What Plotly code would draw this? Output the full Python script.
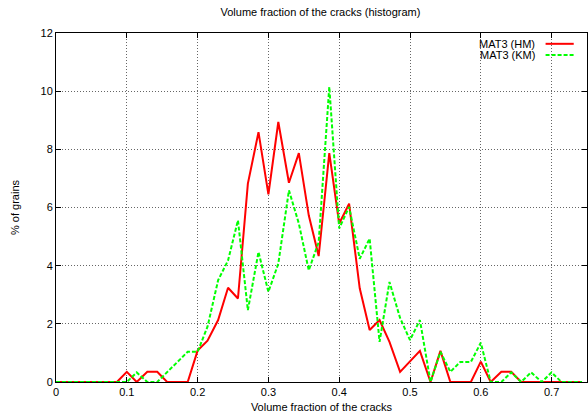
import plotly.graph_objects as go

# bin centres (volume fraction of the cracks)
volume_fraction = [0.0, 0.014, 0.029, 0.043, 0.057, 0.071, 0.086, 0.1, 0.114, 0.129,
                   0.143, 0.157, 0.171, 0.186, 0.2, 0.214, 0.229, 0.243, 0.257, 0.271,
                   0.286, 0.3, 0.314, 0.329, 0.343, 0.357, 0.371, 0.386, 0.4, 0.414,
                   0.429, 0.443, 0.457, 0.471, 0.486, 0.5, 0.514, 0.529, 0.543, 0.557,
                   0.571, 0.586, 0.6, 0.614, 0.629, 0.643, 0.657, 0.671, 0.686, 0.7,
                   0.714, 0.729, 0.743]

# % of grains, MAT3 (HM)
grains_hm = [0, 0, 0, 0, 0, 0, 0, 0.35, 0, 0.35,
             0.35, 0, 0, 0, 1.08, 1.42, 2.13, 3.24, 2.87, 6.82,
             8.59, 6.45, 8.94, 6.85, 7.87, 5.73, 4.33, 7.87, 5.45, 6.13,
             3.22, 1.79, 2.13, 1.38, 0.35, 0.7, 1.07, 0, 1.07, 0,
             0, 0, 0.7, 0, 0.35, 0.35, 0, 0, 0, 0,
             0, 0, 0]

# % of grains, MAT3 (KM)
grains_km = [0, 0, 0, 0, 0, 0, 0, 0, 0.33, 0,
             0, 0.33, 0.69, 1.04, 1.04, 1.9, 3.5, 4.18, 5.56, 2.47,
             4.47, 3.1, 4.07, 6.59, 5.45, 3.84, 4.81, 10.15, 5.28, 6.02,
             4.24, 4.93, 1.38, 3.44, 2.2, 1.44, 2.13, 0, 1.04, 0.35,
             0.69, 0.69, 1.35, 0, 0, 0.33, 0, 0.33, 0, 0.33,
             0, 0, 0]

x_ticks = [0, 0.1, 0.2, 0.3, 0.4, 0.5, 0.6, 0.7]
y_ticks = [0, 2, 4, 6, 8, 10, 12]

FONT = "Liberation Sans, Arial, Helvetica, sans-serif"

fig = go.Figure()
fig.add_trace(go.Scatter(x=volume_fraction, y=grains_hm, mode="lines", name="MAT3 (HM)",
                         line=dict(color="#ff0000", width=2)))
fig.add_trace(go.Scatter(x=volume_fraction, y=grains_km, mode="lines", name="MAT3 (KM)",
                         line=dict(color="#00ff00", width=2, dash="4px,2px")))

axis_common = dict(
    showline=True, linecolor="black", linewidth=1, mirror="ticks",
    ticks="inside", ticklen=5, tickcolor="black",
    showgrid=True, gridcolor="#666666", griddash="1px,2px", gridwidth=1,
    zeroline=False, tickfont=dict(size=11, color="black"),
)

fig.update_xaxes(range=[0, 0.75], tickvals=x_ticks, ticktext=[str(t) for t in x_ticks],
                 title=dict(text="Volume fraction of the cracks", font=dict(size=11), standoff=6),
                 **axis_common)
fig.update_yaxes(range=[0, 12], tickvals=y_ticks,
                 title=dict(text="% of grains", font=dict(size=11), standoff=18),
                 **axis_common)

# gnuplot-style key: text right-aligned, line sample on its right
for i, (label, color, dash) in enumerate([("MAT3 (HM)", "#ff0000", "solid"),
                                          ("MAT3 (KM)", "#00ff00", "4px,2px")]):
    yp = 0.969 - i * 0.032
    fig.add_annotation(x=0.905, y=yp, xref="paper", yref="paper", text=label,
                       showarrow=False, xanchor="right", yanchor="middle",
                       font=dict(size=11, color="black"))
    fig.add_shape(type="line", xref="paper", yref="paper", x0=0.922, x1=0.975,
                  y0=yp, y1=yp, line=dict(color=color, width=2, dash=dash))

fig.update_layout(
    width=588, height=418,
    margin=dict(l=56, r=1, t=33, b=36),
    paper_bgcolor="white", plot_bgcolor="white",
    font=dict(family=FONT, size=11, color="black"),
    title=dict(text="Volume fraction of the cracks (histogram)", x=0.545, xanchor="center",
               y=0.972, yanchor="middle", font=dict(size=11)),
    showlegend=False,
)

fig.write_html("out.html", config={"displayModeBar": False},
               post_script="document.body.style.margin='0';")
